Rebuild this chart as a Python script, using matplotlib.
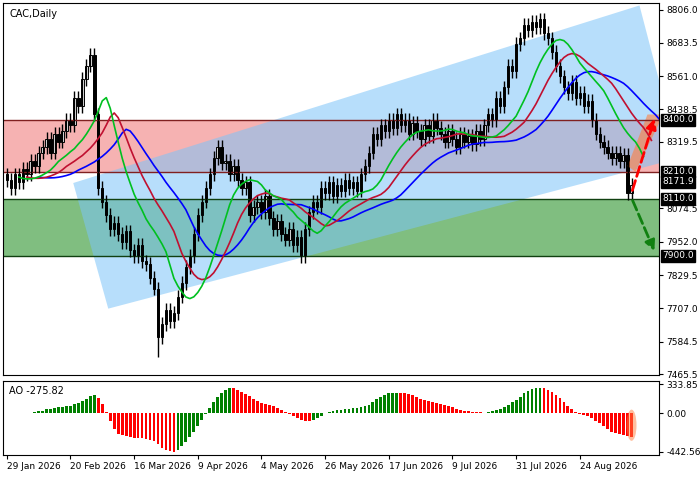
import matplotlib.pyplot as plt
import numpy as np
from matplotlib.patches import Polygon, Ellipse, Rectangle

closes = [8180, 8150, 8200, 8170, 8220, 8200, 8250, 8230, 8280, 8300,
          8330, 8280, 8350, 8320, 8360, 8400, 8380, 8480, 8450, 8550,
          8600, 8640, 8420, 8150, 8100, 8050, 8000, 8020, 7980, 7950,
          7990, 7920, 7900, 7940, 7880, 7870, 7820, 7780, 7600, 7650,
          7700, 7660, 7690, 7750, 7800, 7860, 7900, 7980, 8050, 8100,
          8150, 8200, 8260, 8300, 8240, 8250, 8200, 8230, 8180, 8150,
          8170, 8050, 8080, 8100, 8060, 8120, 8040, 8000, 8030, 7980,
          7960, 8000, 7940, 7970, 7900, 8000, 8060, 8100, 8080, 8150,
          8130, 8170, 8120, 8160, 8140, 8180, 8150, 8170, 8140, 8200,
          8230, 8280, 8350, 8330, 8380, 8360, 8400, 8370, 8420, 8380,
          8400, 8350, 8390, 8360, 8330, 8380, 8340, 8400, 8370, 8350,
          8320, 8360, 8330, 8300, 8350, 8320, 8340, 8310, 8360, 8330,
          8380, 8420, 8400, 8480, 8450, 8520, 8600, 8580, 8680, 8700,
          8750, 8730, 8760, 8740, 8770, 8720, 8700, 8650, 8600, 8560,
          8520, 8500, 8540, 8480, 8500, 8450, 8470, 8400, 8350, 8320,
          8300, 8280, 8260, 8280, 8250, 8270, 8130, 8160]
first_open = 8200
price_ticks = [8806.0, 8683.5, 8561.0, 8438.5, 8319.5, 8074.5, 7952.0, 7829.5, 7707.0, 7584.5, 7465.5]
level_labels = [8400.0, 8210.0, 8171.9, 8110.0, 7900.0]
date_labels = ['29 Jan 2026', '20 Feb 2026', '16 Mar 2026', '9 Apr 2026', '4 May 2026',
               '26 May 2026', '17 Jun 2026', '9 Jul 2026', '31 Jul 2026', '24 Aug 2026']
ao_ticks = [333.85, 0.00, -442.56]

c = np.array(closes, float)
o = np.r_[first_open, c[:-1]]
hi = np.maximum(o, c) + 25
lo = np.minimum(o, c) - 25
lo[38] = 7530
n = len(c)
x = np.arange(n)
med = (hi + lo) / 2


def smma(v, p):
    out = np.empty_like(v)
    out[0] = v[0]
    for k in range(1, len(v)):
        out[k] = (out[k - 1] * (p - 1) + v[k]) / p
    return out


def sma(v, p):
    # expanding mean for the first bars so the histogram starts at bar 0
    return np.array([v[max(0, k - p + 1):k + 1].mean() for k in range(len(v))])


fig = plt.figure(figsize=(7, 5), dpi=100)
ax = fig.add_axes([0.004, 0.25, 0.938, 0.744])
ax2 = fig.add_axes([0.004, 0.09, 0.938, 0.148])

ax.set_xlim(-1, 164)
ax.set_ylim(7462, 8830)
ax.axhspan(8210, 8400, color='#f08080', alpha=0.6, lw=0)
ax.axhline(8400, color='#802020', lw=1)
ax.axhline(8210, color='#802020', lw=1)
ax.axhspan(7900, 8110, color='#3c9c3c', alpha=0.65, lw=0)
ax.axhline(8110, color='#104010', lw=1)
ax.axhline(7900, color='#104010', lw=1)
ax.add_patch(Polygon([[16.7, 8168], [25.5, 7706], [169, 8260], [159, 8821]],
                     closed=True, color='#7cc4f8', alpha=0.55, lw=0))

for i in range(n):
    up = c[i] >= o[i]
    ax.vlines(i, lo[i], hi[i], color='black', lw=1)
    b = min(o[i], c[i])
    h = max(abs(c[i] - o[i]), 3)
    ax.add_patch(Rectangle((i - 0.3, b), 0.6, h, facecolor='white' if up else 'black',
                           edgecolor='black', lw=0.7))

for p, sh, col in [(13, 8, '#0000ff'), (8, 5, '#c01030'), (5, 3, '#00c020')]:
    ax.plot(x + sh, smma(med, p), color=col, lw=1.2)

ax.annotate('', xy=(163, 8415), xytext=(157, 8131),
            arrowprops=dict(arrowstyle='-|>', color='red', ls='--', lw=2, mutation_scale=15))
ax.annotate('', xy=(163, 7909), xytext=(157, 8113),
            arrowprops=dict(arrowstyle='-|>', color='#108010', ls='--', lw=2, mutation_scale=15))
ax.add_patch(Polygon([[158, 8210], [165, 8420], [161, 8420], [156, 8230]], color='#ff8040', alpha=0.6, lw=0))

ax.yaxis.tick_right()
ax.set_yticks(price_ticks)
ax.set_yticklabels([f'{t:.1f}' for t in price_ticks], fontsize=6.5)
ax.tick_params(axis='y', length=3, pad=2)
for lv in level_labels:
    ax.text(1.004, lv, f'{lv:.1f}', transform=ax.get_yaxis_transform(), fontsize=6.5,
            color='white', va='center', ha='left',
            bbox=dict(boxstyle='square,pad=0.15', fc='black', ec='black'))
ax.set_xticks([])
ax.text(0.01, 0.985, 'CAC,Daily', transform=ax.transAxes, fontsize=7, va='top')

ao = sma(med, 5) - sma(med, 34)
cols = ['#008000' if (k > 0 and ao[k] > ao[k - 1]) else '#ff0000' for k in range(n)]
ax2.bar(x, ao, width=0.7, color=cols)
ax2.add_patch(Ellipse((n - 1, ao[-1] / 2), 2.5, abs(ao[-1]) * 1.3,
                      color='#ff8040', alpha=0.5, lw=0))
ax2.set_xlim(-1, 164)
ax2.set_ylim(-480, 370)
ax2.yaxis.tick_right()
ax2.set_yticks(ao_ticks)
ax2.set_yticklabels([f'{t:.2f}' for t in ao_ticks], fontsize=6.5)
ax2.tick_params(axis='y', length=3, pad=2)
ax2.set_xticks(np.arange(len(date_labels)) * 16)
ax2.set_xticklabels(date_labels, fontsize=6.5, ha='left')
ax2.tick_params(axis='x', length=3, pad=2)
ax2.text(0.01, 0.93, f'AO {ao[-1]:.2f}', transform=ax2.transAxes, fontsize=7, va='top')

fig.savefig('out.png', dpi=100)
